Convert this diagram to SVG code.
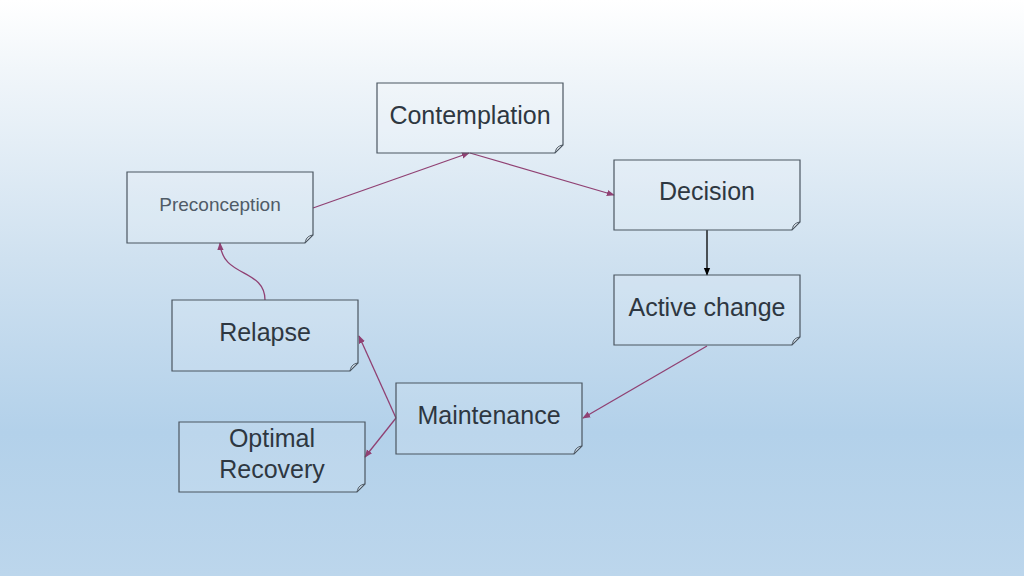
<svg xmlns="http://www.w3.org/2000/svg" width="1024" height="576" viewBox="0 0 1024 576">
<defs>
<linearGradient id="bg" x1="0" y1="0" x2="0" y2="1">
<stop offset="0" stop-color="#ffffff"/>
<stop offset="0.12" stop-color="#f1f6fa"/>
<stop offset="0.45" stop-color="#cfe1f0"/>
<stop offset="0.75" stop-color="#b3d1ea"/>
<stop offset="1" stop-color="#bcd6ec"/>
</linearGradient>
<marker id="ap" viewBox="0 0 10 10" refX="9" refY="5" markerWidth="8" markerHeight="8" markerUnits="userSpaceOnUse" orient="auto">
<path d="M0,1 L10,5 L0,9 Z" fill="#904173"/>
</marker>
<marker id="ak" viewBox="0 0 10 10" refX="9" refY="5" markerWidth="8" markerHeight="8" markerUnits="userSpaceOnUse" orient="auto">
<path d="M0,1 L10,5 L0,9 Z" fill="#000"/>
</marker>
</defs>
<style>
.box{fill:#ffffff;fill-opacity:0.12;stroke:#4b5661;stroke-width:1.2}
.fold{fill:#ffffff;fill-opacity:0.3;stroke:#4b5661;stroke-width:1}
.t{font-family:"Liberation Sans",Arial,sans-serif;font-size:25px;fill:#2e3741;text-anchor:middle}
.ts{font-family:"Liberation Sans",Arial,sans-serif;font-size:19px;fill:#4f5b67;text-anchor:middle}
.c{fill:none;stroke:#904173;stroke-width:1.3;marker-end:url(#ap)}
.k{fill:none;stroke:#000;stroke-width:1.3;marker-end:url(#ak)}
</style>
<rect width="1024" height="576" fill="url(#bg)"/>
<g id="connectors">
<path class="c" d="M313,208 L469,153"/>
<path class="c" d="M470,153 L614,195"/>
<path class="k" d="M707,230 L707,275"/>
<path class="c" d="M707,346 L583,418"/>
<path class="c" d="M396,418 L359,336"/>
<path class="c" d="M396,418 L365,457"/>
<path class="c" d="M265,300 C265,268 222,278 220,243"/>
</g>
<g id="contemplation">
<path class="box" d="M377,83 H563 V145 L555,153 H377 Z"/>
<path class="fold" d="M563,145 L555,153 C556,149 557,146 563,145 Z"/>
<text class="t" x="470" y="124">Contemplation</text>
</g>
<g id="preconception">
<path class="box" d="M127,172 H313 V235 L305,243 H127 Z"/>
<path class="fold" d="M313,235 L305,243 C306,239 307,236 313,235 Z"/>
<text class="ts" x="220" y="211">Preconception</text>
</g>
<g id="decision">
<path class="box" d="M614,160 H800 V222 L792,230 H614 Z"/>
<path class="fold" d="M800,222 L792,230 C793,226 794,223 800,222 Z"/>
<text class="t" x="707" y="200">Decision</text>
</g>
<g id="active-change">
<path class="box" d="M614,275 H800 V337 L792,345 H614 Z"/>
<path class="fold" d="M800,337 L792,345 C793,341 794,338 800,337 Z"/>
<text class="t" x="707" y="316">Active change</text>
</g>
<g id="relapse">
<path class="box" d="M172,300 H358 V363 L350,371 H172 Z"/>
<path class="fold" d="M358,363 L350,371 C351,367 352,364 358,363 Z"/>
<text class="t" x="265" y="341">Relapse</text>
</g>
<g id="maintenance">
<path class="box" d="M396,383 H582 V446 L574,454 H396 Z"/>
<path class="fold" d="M582,446 L574,454 C575,450 576,447 582,446 Z"/>
<text class="t" x="489" y="424">Maintenance</text>
</g>
<g id="optimal-recovery">
<path class="box" d="M179,422 H365 V484 L357,492 H179 Z"/>
<path class="fold" d="M365,484 L357,492 C358,488 359,485 365,484 Z"/>
<text class="t" x="272" y="447">Optimal</text>
<text class="t" x="272" y="478">Recovery</text>
</g>
</svg>
